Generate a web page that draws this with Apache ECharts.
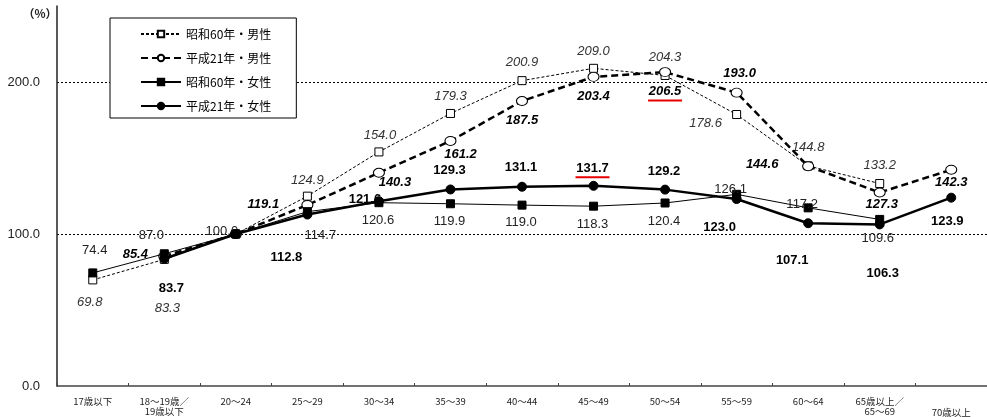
<!DOCTYPE html>
<html>
<head>
<meta charset="utf-8">
<script src="https://cdn.jsdelivr.net/npm/echarts@6/dist/echarts.min.js"></script>
<style>
html,body{margin:0;padding:0;background:#fff;}
#chart{width:987px;height:417px;}
</style>
</head>
<body>
<div id="chart"></div>
<script>
// ---- data ----
const categories = ['17歳以下', '18～19歳／\n19歳以下', '20～24', '25～29', '30～34', '35～39', '40～44', '45～49', '50～54', '55～59', '60～64', '65歳以上／\n65～69', '70歳以上'];
const seriesNames = ['昭和60年・男性', '平成21年・男性', '昭和60年・女性', '平成21年・女性'];
const s60Male   = [69.8, 83.3, 100.0, 124.9, 154.0, 179.3, 200.9, 209.0, 204.3, 178.6, 144.8, 133.2, null];
const h21Male   = [null, 85.4, 100.0, 119.1, 140.3, 161.2, 187.5, 203.4, 206.5, 193.0, 144.6, 127.3, 142.3];
const s60Female = [74.4, 87.0, 100.0, 114.7, 120.6, 119.9, 119.0, 118.3, 120.4, 126.1, 117.2, 109.6, null];
const h21Female = [null, 83.7, 100.0, 112.8, 121.6, 129.3, 131.1, 131.7, 129.2, 123.0, 107.1, 106.3, 123.9];
const yTickLabels = ['0.0', '100.0', '200.0'];

// ---- label placement (pixel offsets from each marker; null = no label) ----
const s60MaleOff   = [[-3,22],[3,49],null,[0,-16],[1,-17],[0,-17],[0,-18],[0,-17],[0,-18],[-31,9],[0,-19],[0,-18],null];
const h21MaleOff   = [null,[-29,-2],null,[-44,-1],[16,10],[10,13],[0,19],[0,20],[0,21],[3,-19],[-46,-2],[2,12],[0,13]];
const s60FemaleOff = [[2,-22],[-13,-18],[-14,-3],[13,24],[-1,18],[-1,18],[-1,17],[-1,18],[-1,18],[-6,-5],[-6,-3],[-2,19],null];
const h21FemaleOff = [null,[7,30],null,[-21,43],[-14,-2],[-1,-19],[-1,-19],[-1,-16],[-1,-18],[-17,28],[-16,37],[3,49],[-4,24]];

const FONT = '"Liberation Sans", Arial, sans-serif';
const JFONT = '"Noto Sans CJK JP", "Liberation Sans", sans-serif';

function buildData(values, offs) {
  return values.map((v, i) => ({
    value: v == null ? '-' : v,
    label: offs[i] ? { show: true, offset: offs[i] } : { show: false }
  }));
}

function labelCfg(textStyle, underlineMax, values) {
  const max = underlineMax ? Math.max(...values.filter(v => v != null)) : null;
  return {
    show: true,
    position: 'inside',
    align: 'center',
    verticalAlign: 'middle',
    formatter: p => {
      const t = Number(p.value).toFixed(1);
      return (max !== null && p.value === max) ? '{v|' + t + '}\n{u|}' : '{v|' + t + '}';
    },
    rich: {
      v: Object.assign({ fontFamily: FONT, fontSize: 13, lineHeight: 15 }, textStyle),
      u: { backgroundColor: '#e60000', width: 34, height: 2, lineHeight: 3 }
    }
  };
}

const catData = categories.map((c, i) => i === categories.length - 1
  ? { value: c, textStyle: { padding: [11, 0, 0, 0] } }
  : c);

const option = {
  animation: false,
  backgroundColor: '#fff',
  grid: { left: 57, top: 6, width: 936, height: 380, containLabel: false },
  legend: {
    orient: 'vertical',
    left: 110,
    top: 18,
    padding: [10, 25, 6, 30],
    itemGap: 12,
    itemWidth: 40,
    itemHeight: 8,
    borderColor: '#000',
    borderWidth: 1,
    backgroundColor: '#fff',
    textStyle: { fontFamily: JFONT, fontSize: 12, color: '#000' },
    data: seriesNames
  },
  graphic: [{
    type: 'text', left: 23, top: 8,
    style: { text: '（%）', fontFamily: JFONT, fontSize: 11.5, fontWeight: 'bold', fill: '#222' }
  }],
  xAxis: {
    type: 'category',
    data: catData,
    boundaryGap: true,
    axisLine: { lineStyle: { color: '#444', width: 1.5 } },
    axisTick: { show: true, inside: true, length: 3, lineStyle: { color: '#444' } },
    axisLabel: { interval: 0, margin: 10, fontFamily: JFONT, fontSize: 9.5, lineHeight: 10, color: '#222' },
    splitLine: { show: false }
  },
  yAxis: {
    type: 'value',
    min: 0, max: 250, interval: 100,
    axisLine: { show: true, lineStyle: { color: '#222', width: 1.5 } },
    axisTick: { show: false },
    axisLabel: {
      margin: 17, fontFamily: FONT, fontSize: 13, color: '#222',
      showMaxLabel: false,
      formatter: v => yTickLabels[v / 100] || ''
    },
    splitLine: { show: true, showMinLine: false, showMaxLine: false, lineStyle: { color: '#000', width: 1, type: [2, 2] } }
  },
  series: [
    {
      name: seriesNames[0], type: 'line',
      data: buildData(s60Male, s60MaleOff),
      symbol: 'rect', symbolSize: 8,
      itemStyle: { color: '#fff', borderColor: '#000', borderWidth: 1 },
      lineStyle: { color: '#000', width: 1, type: [3, 2] },
      label: labelCfg({ fontStyle: 'italic', color: '#333' }, false, s60Male),
      z: 2
    },
    {
      name: seriesNames[1], type: 'line',
      data: buildData(h21Male, h21MaleOff),
      symbol: 'circle', symbolSize: [11, 9],
      itemStyle: { color: '#fff', borderColor: '#000', borderWidth: 1 },
      lineStyle: { color: '#000', width: 2.5, type: [7, 4] },
      label: labelCfg({ fontStyle: 'italic', fontWeight: 'bold', color: '#000' }, true, h21Male),
      z: 3
    },
    {
      name: seriesNames[2], type: 'line',
      data: buildData(s60Female, s60FemaleOff),
      symbol: 'rect', symbolSize: 8,
      itemStyle: { color: '#000', borderColor: '#000', borderWidth: 1 },
      lineStyle: { color: '#000', width: 1, type: 'solid' },
      label: labelCfg({ color: '#222' }, false, s60Female),
      z: 4
    },
    {
      name: seriesNames[3], type: 'line',
      data: buildData(h21Female, h21FemaleOff),
      symbol: 'circle', symbolSize: 9,
      itemStyle: { color: '#000', borderColor: '#000', borderWidth: 1 },
      lineStyle: { color: '#000', width: 2.5, type: 'solid' },
      label: labelCfg({ fontWeight: 'bold', color: '#000' }, true, h21Female),
      z: 5
    }
  ]
};

const chart = echarts.init(document.getElementById('chart'), null, { renderer: 'canvas' });
chart.setOption(option);
</script>
</body>
</html>
